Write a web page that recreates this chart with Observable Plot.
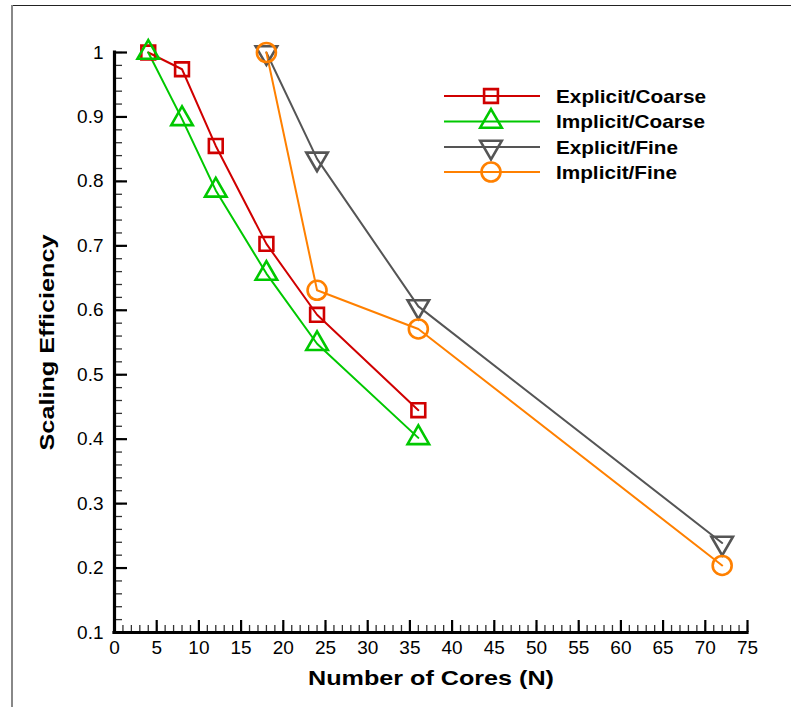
<!DOCTYPE html>
<html>
<head>
<meta charset="utf-8">
<script src="https://cdn.jsdelivr.net/npm/d3@7"></script>
<script src="https://cdn.jsdelivr.net/npm/@observablehq/plot@0.6"></script>
<style>
  html, body { margin: 0; padding: 0; background: #fff; }
  #wrap { position: relative; width: 791px; height: 707px; overflow: hidden; background: #fff; }
  #frameTop { position: absolute; left: 12px; top: 5px; width: 779px; height: 0; border-top: 1.5px solid #222; }
  #frameLeft { position: absolute; left: 11px; top: 5px; width: 0; height: 702px; border-left: 2px solid #888; }
  #chart { position: absolute; left: 0; top: 0; }
  #legend { position: absolute; left: 0; top: 0; pointer-events: none; }
</style>
</head>
<body>
<div id="wrap">
  <div id="frameTop"></div>
  <div id="frameLeft"></div>
  <div id="chart"></div>
  <svg id="legend" width="791" height="707"></svg>
</div>
<script>
// ---- data ----
const seriesNames = ["Explicit/Coarse", "Implicit/Coarse", "Explicit/Fine", "Implicit/Fine"];
const seriesColors = ["#d00000", "#00c800", "#555555", "#ff8000"];
const seriesSymbols = ["square", "triangle", "triangle", "circle"];
const seriesRotate = [0, 0, 180, 0];

const explicitCoarseCores = [4, 8, 12, 18, 24, 36];
const explicitCoarseEff   = [1.0, 0.974, 0.855, 0.703, 0.593, 0.445];

const implicitCoarseCores = [4, 8, 12, 18, 24, 36];
const implicitCoarseEff   = [1.0, 0.897, 0.786, 0.657, 0.548, 0.402];

const explicitFineCores = [18, 24, 36, 72];
const explicitFineEff   = [1.0, 0.835, 0.606, 0.239];

const implicitFineCores = [18, 24, 36, 72];
const implicitFineEff   = [1.0, 0.631, 0.571, 0.204];

const xMajorTicks = [0, 5, 10, 15, 20, 25, 30, 35, 40, 45, 50, 55, 60, 65, 70, 75];
const yMajorTicks = [0.1, 0.2, 0.3, 0.4, 0.5, 0.6, 0.7, 0.8, 0.9, 1];
const xMinorTicks = d3.range(0, 76, 1);
const yMinorTicks = d3.range(10, 101, 2).map(v => v / 100);

const xTitle = "Number of Cores (N)";
const yTitle = "Scaling Efficiency";

// ---- build tables ----
const seriesData = [
  [explicitCoarseCores, explicitCoarseEff],
  [implicitCoarseCores, implicitCoarseEff],
  [explicitFineCores, explicitFineEff],
  [implicitFineCores, implicitFineEff]
].map(([xs, ys], k) => xs.map((x, i) => ({series: seriesNames[k], cores: x, eff: ys[i]})));

const font = "'Liberation Sans', Arial, Helvetica, sans-serif";
const symR = s => s === "square" ? 7.8 : s === "circle" ? 9.5 : 8;

const lineMarks = seriesData.map((d, k) =>
  Plot.line(d, {x: "cores", y: "eff", stroke: seriesColors[k], strokeWidth: 2}));
const dotMarks = seriesData.map((d, k) =>
  Plot.dot(d, {x: "cores", y: "eff", stroke: seriesColors[k], fill: "none", strokeWidth: 2.6,
    symbol: seriesSymbols[k], rotate: seriesRotate[k], r: symR(seriesSymbols[k])}));

const chart = Plot.plot({
  width: 791, height: 707,
  marginLeft: 114, marginRight: 44, marginTop: 52, marginBottom: 75,
  x: {domain: [0, 75]},
  y: {domain: [0.1, 1]},
  style: {fontFamily: font, fontSize: "19px", color: "black", background: "transparent", overflow: "visible"},
  marks: [
    Plot.ruleX(xMinorTicks, {x: d => d, y1: 0.1, y2: 0.1, insetTop: -7, stroke: "#333", strokeWidth: 1.3}),
    Plot.ruleX(xMajorTicks, {x: d => d, y1: 0.1, y2: 0.1, insetTop: -12, stroke: "black", strokeWidth: 2.2}),
    Plot.ruleY(yMinorTicks, {y: d => d, x1: 0, x2: 0, insetRight: -8, stroke: "#333", strokeWidth: 1.3}),
    Plot.ruleY(yMajorTicks, {y: d => d, x1: 0, x2: 0, insetRight: -13, stroke: "black", strokeWidth: 2.2}),
    Plot.ruleY([0.1], {stroke: "black", strokeWidth: 3.2, strokeLinecap: "square"}),
    Plot.ruleX([0], {y1: 0.1, y2: 1, stroke: "black", strokeWidth: 3.2, strokeLinecap: "square"}),
    Plot.axisX(xMajorTicks, {tickSize: 0, tickPadding: 8, fontSize: 19, label: null, tickFormat: d => String(d)}),
    Plot.axisY(yMajorTicks, {tickSize: 0, tickPadding: 11, fontSize: 19, label: null, tickFormat: d => String(d)}),
    ...lineMarks,
    ...dotMarks,
    Plot.text([xTitle], {frameAnchor: "bottom", dy: 46, fontSize: 21, fontWeight: "bold", text: d => d, lineAnchor: "middle", textAnchor: "middle"}),
    Plot.text([yTitle], {frameAnchor: "left", dx: -67, rotate: -90, fontSize: 21, fontWeight: "bold", text: d => d, lineAnchor: "middle", textAnchor: "middle"})
  ]
});
document.getElementById("chart").appendChild(chart);

// stretch bold titles to match the reference's wide bold face
d3.select(chart).selectAll("text").each(function() {
  const t = this.textContent;
  if (t === xTitle) d3.select(this).attr("textLength", 246).attr("lengthAdjust", "spacingAndGlyphs");
  if (t === yTitle) d3.select(this).attr("textLength", 216).attr("lengthAdjust", "spacingAndGlyphs");
});

// ---- legend ----
const legendX0 = 444, legendX1 = 540, legendMark = 491, legendText = 556;
const legendRows = [96, 121.5, 147, 172];
const legendTextLen = [150, 149, 122, 121];
const legend = d3.select("#legend");
seriesNames.forEach((name, k) => {
  const y = legendRows[k];
  legend.append("line").attr("x1", legendX0).attr("x2", legendX1).attr("y1", y).attr("y2", y)
    .attr("stroke", seriesColors[k]).attr("stroke-width", 2);
  const sym = seriesSymbols[k] === "square" ? d3.symbolSquare : seriesSymbols[k] === "circle" ? d3.symbolCircle : d3.symbolTriangle;
  const r = symR(seriesSymbols[k]);
  legend.append("path").attr("d", d3.symbol(sym, Math.PI * r * r)())
    .attr("transform", `translate(${legendMark},${y}) rotate(${seriesRotate[k]})`)
    .attr("fill", "none").attr("stroke", seriesColors[k]).attr("stroke-width", 2.6);
  legend.append("text").attr("x", legendText).attr("y", y).attr("dy", "0.36em")
    .attr("font-family", font).attr("font-weight", "bold").attr("font-size", 19)
    .attr("textLength", legendTextLen[k]).attr("lengthAdjust", "spacingAndGlyphs")
    .attr("fill", "black").text(name);
});
</script>
</body>
</html>
